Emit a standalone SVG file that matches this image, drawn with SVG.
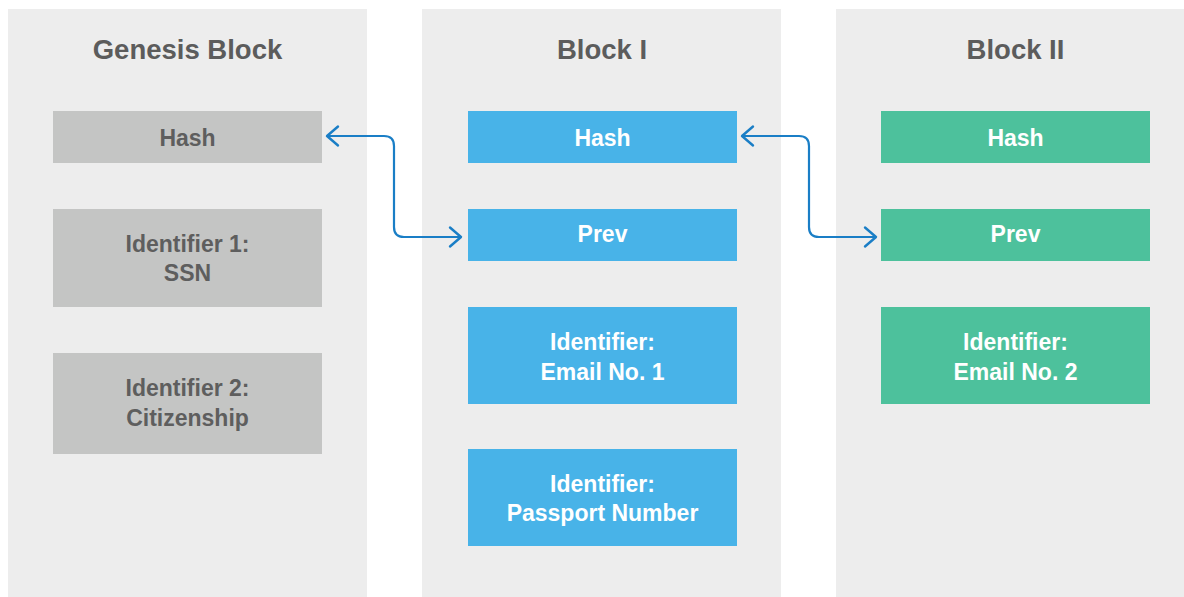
<svg xmlns="http://www.w3.org/2000/svg" width="1184" height="597" viewBox="0 0 1184 597">
<style>
.panel{fill:#ededed}
.title{font-family:"Liberation Sans",Arial,sans-serif;font-weight:bold;font-size:27.5px;fill:#5c5c5c;text-anchor:middle}
.lbl{font-family:"Liberation Sans",Arial,sans-serif;font-weight:bold;font-size:23px;text-anchor:middle}
.g rect{fill:#c4c5c4}
.g text{fill:#5e5e5e}
.b rect{fill:#48b3e8}
.b text{fill:#ffffff}
.e rect{fill:#4dc19c}
.e text{fill:#ffffff}
.conn{fill:none;stroke:#1a7ec6;stroke-width:2.2;stroke-linejoin:round}
</style>
<defs>
<marker id="chev" markerUnits="userSpaceOnUse" markerWidth="26" markerHeight="26" viewBox="-13 -13 26 26" refX="0" refY="0" orient="auto-start-reverse">
<path d="M-11,-9.5 L0,0 L-11,9.5" fill="none" stroke="#1a7ec6" stroke-width="2.4" stroke-linecap="round" stroke-linejoin="round"/>
</marker>
</defs>
<rect width="1184" height="597" fill="#ffffff"/>
<g id="panel-genesis">
<rect class="panel" x="8" y="9" width="359" height="588"/>
<text class="title" x="187.5" y="59">Genesis Block</text>
</g>
<g id="panel-block1">
<rect class="panel" x="422" y="9" width="359" height="588"/>
<text class="title" x="602" y="59">Block I</text>
</g>
<g id="panel-block2">
<rect class="panel" x="836" y="9" width="359" height="588"/>
<text class="title" x="1015.5" y="59">Block II</text>
</g>
<g id="genesis-hash" class="g lbl"><rect x="53" y="111" width="269" height="52"/><text x="187.5" y="145.5">Hash</text></g>
<g id="genesis-id1" class="g lbl"><rect x="53" y="209" width="269" height="98"/><text x="187.5" y="251.5">Identifier 1:</text><text x="187.5" y="281">SSN</text></g>
<g id="genesis-id2" class="g lbl"><rect x="53" y="353" width="269" height="101"/><text x="187.5" y="395.5">Identifier 2:</text><text x="187.5" y="425.5">Citizenship</text></g>
<g id="block1-hash" class="b lbl"><rect x="468" y="111" width="269" height="52"/><text x="602.5" y="145.5">Hash</text></g>
<g id="block1-prev" class="b lbl"><rect x="468" y="209" width="269" height="52"/><text x="602.5" y="242">Prev</text></g>
<g id="block1-id" class="b lbl"><rect x="468" y="307" width="269" height="97"/><text x="602.5" y="349.5">Identifier:</text><text x="602.5" y="379.5">Email No. 1</text></g>
<g id="block1-passport" class="b lbl"><rect x="468" y="449" width="269" height="97"/><text x="602.5" y="491.5">Identifier:</text><text x="602.5" y="521">Passport Number</text></g>
<g id="block2-hash" class="e lbl"><rect x="881" y="111" width="269" height="52"/><text x="1015.5" y="145.5">Hash</text></g>
<g id="block2-prev" class="e lbl"><rect x="881" y="209" width="269" height="52"/><text x="1015.5" y="242">Prev</text></g>
<g id="block2-id" class="e lbl"><rect x="881" y="307" width="269" height="97"/><text x="1015.5" y="350">Identifier:</text><text x="1015.5" y="380">Email No. 2</text></g>
<g id="connectors">
<path class="conn" d="M327,136 H384 Q394,136 394,146 V227 Q394,237 404,237 H461" marker-start="url(#chev)" marker-end="url(#chev)"/>
<path class="conn" d="M742,136 H799 Q809,136 809,146 V227 Q809,237 819,237 H876" marker-start="url(#chev)" marker-end="url(#chev)"/>
</g>
</svg>
